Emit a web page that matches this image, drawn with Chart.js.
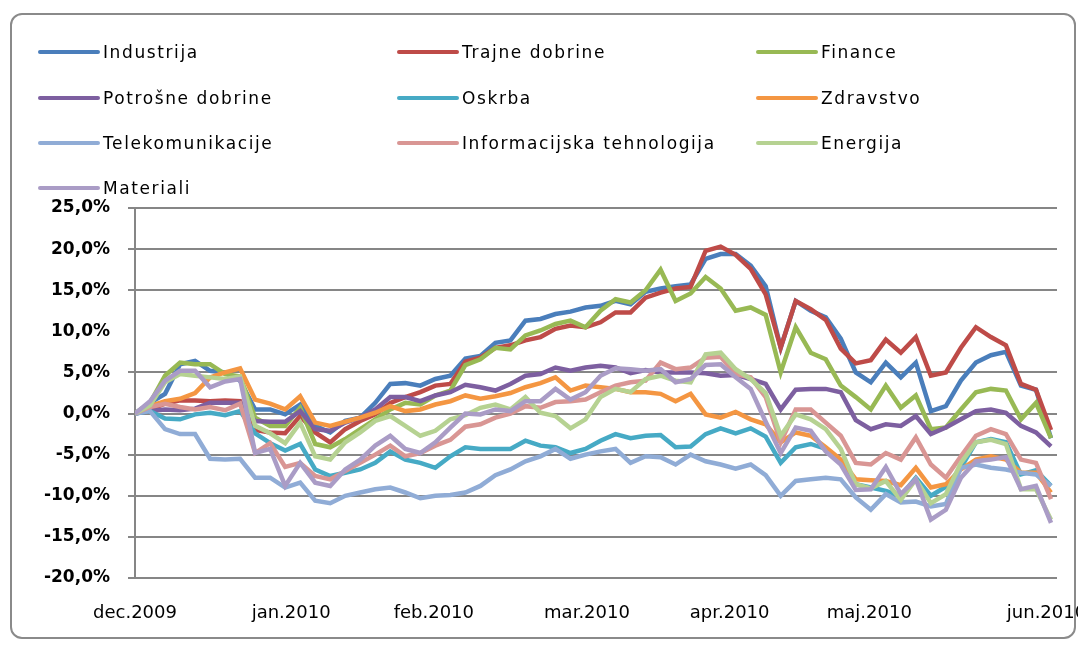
<!DOCTYPE html>
<html>
<head>
<meta charset="utf-8">
<script src="https://cdn.jsdelivr.net/npm/chart.js@4.4.1/dist/chart.umd.min.js"></script>
<style>
  html, body { margin: 0; padding: 0; background: #fff; }
  #wrap { position: relative; width: 1078px; height: 645px; overflow: hidden; }
  #frame { position: absolute; left: 10px; top: 13px; width: 1062px; height: 622px; border: 2px solid #8a8a8a; border-radius: 12px; }
  #chart { position: absolute; left: 0; top: 0; }
  #legend { position: absolute; left: 0; top: 0; font-family: 'DejaVu Sans', sans-serif; font-size: 17px; letter-spacing: 1.6px; color: #000; }
  .item { position: absolute; height: 20px; display: flex; align-items: center; white-space: nowrap; }
  .sw { display: inline-block; width: 62px; height: 4px; border-radius: 2px; margin-right: 3px; }
</style>
</head>
<body>
<div id="wrap">
  <div id="frame"></div>
  <canvas id="chart" width="1078" height="645"></canvas>
  <div id="legend"></div>
</div>
<script>
// trading-day index (one sample every ~15px of the original)
var days = Array.from({ length: 62 }, function (_, i) { return i; });

var monthPos = [0, 10.4, 19.9, 30.1, 39.6, 48.9, 60.7];
var monthLabels = ['dec.2009', 'jan.2010', 'feb.2010', 'mar.2010', 'apr.2010', 'maj.2010', 'jun.2010'];

var names = ['Industrija', 'Trajne dobrine', 'Finance', 'Potrošne dobrine', 'Oskrba', 'Zdravstvo',
             'Telekomunikacije', 'Informacijska tehnologija', 'Energija', 'Materiali'];
var colors = ['#4a7ebb', '#be4b48', '#98b954', '#7d5fa0', '#46aac5', '#f49642',
              '#90acd6', '#d99694', '#b6d292', '#aa9cc6'];

var industrija = [0, 1.3, 2.4, 6.0, 6.4, 5.2, 5.0, 4.0, 0.5, 0.5, -0.1, 1.1, -1.5, -2.3, -0.9, -0.5, 1.3, 3.6, 3.7, 3.4,
  4.2, 4.6, 6.7, 7.0, 8.6, 8.9, 11.3, 11.5, 12.1, 12.4, 12.9, 13.1, 13.7, 13.3, 14.8, 15.2, 15.5, 15.7, 18.8, 19.4,
  19.4, 18.0, 15.5, 8.0, 13.7, 12.5, 11.7, 9.1, 5.0, 3.8, 6.2, 4.4, 6.2, 0.3, 0.9, 4.0, 6.2, 7.1, 7.5, 3.4, 2.9, -3.0];
var trajne = [0, 0.5, 1.2, 1.6, 1.6, 1.5, 1.6, 1.5, -2.0, -2.3, -2.4, -0.3, -2.3, -3.5, -1.9, -0.9, -0.1, 1.3, 2.0, 2.6,
  3.4, 3.6, 6.3, 6.8, 8.0, 8.3, 8.9, 9.3, 10.3, 10.7, 10.5, 11.1, 12.3, 12.3, 14.1, 14.7, 15.2, 15.4, 19.8, 20.3,
  19.3, 17.6, 14.5, 8.0, 13.7, 12.7, 11.4, 7.9, 6.1, 6.5, 9.0, 7.4, 9.3, 4.6, 5.0, 8.0, 10.5, 9.3, 8.3, 3.6, 2.9, -2.0];
var finance = [0, 1.3, 4.6, 6.2, 6.0, 6.0, 4.8, 4.5, -0.5, -1.5, -1.5, 0.7, -3.7, -4.1, -3.1, -1.9, -0.7, 0.5, 1.3, 1.1,
  2.2, 2.8, 5.9, 6.6, 8.0, 7.8, 9.5, 10.1, 10.9, 11.3, 10.5, 12.5, 13.9, 13.5, 15.0, 17.5, 13.7, 14.6, 16.6, 15.2,
  12.5, 12.9, 12.0, 5.0, 10.5, 7.4, 6.6, 3.4, 2.0, 0.5, 3.4, 0.7, 2.2, -1.9, -1.7, 0.5, 2.6, 3.0, 2.8, -0.7, 1.3, -3.0];
var potrosne = [0, 0.3, 0.5, 0.4, 0.6, 1.3, 1.3, 1.3, -0.9, -1.0, -1.0, 0.3, -1.9, -2.1, -1.1, -0.5, 0.5, 2.0, 2.0, 1.5,
  2.2, 2.6, 3.5, 3.2, 2.8, 3.6, 4.6, 4.8, 5.6, 5.2, 5.6, 5.8, 5.6, 4.9, 5.3, 5.0, 5.0, 5.0, 4.9, 4.6,
  4.7, 4.2, 3.6, 0.5, 2.9, 3.0, 3.0, 2.6, -0.8, -1.9, -1.3, -1.5, -0.3, -2.5, -1.7, -0.7, 0.3, 0.5, 0.1, -1.5, -2.3, -4.0];
var oskrba = [0, 0.3, -0.6, -0.7, -0.1, 0.1, -0.2, 0.3, -2.4, -3.6, -4.5, -3.7, -6.8, -7.6, -7.2, -6.8, -6.0, -4.6, -5.6, -6.0,
  -6.6, -5.2, -4.1, -4.3, -4.3, -4.3, -3.3, -3.9, -4.1, -4.8, -4.3, -3.3, -2.5, -3.0, -2.7, -2.6, -4.1, -4.0, -2.5, -1.8,
  -2.4, -1.8, -2.8, -6.0, -4.1, -3.7, -4.3, -6.0, -8.6, -9.0, -9.4, -10.0, -7.8, -10.0, -8.9, -6.6, -3.5, -3.1, -3.5, -7.4, -6.9, -8.8];
var zdravstvo = [0, 0.9, 1.5, 1.8, 2.5, 4.4, 5.0, 5.5, 1.7, 1.2, 0.5, 2.1, -1.1, -1.5, -1.0, -0.5, 0.1, 0.9, 0.3, 0.5,
  1.1, 1.5, 2.2, 1.8, 2.1, 2.5, 3.2, 3.7, 4.4, 2.8, 3.4, 3.2, 3.0, 2.6, 2.6, 2.4, 1.5, 2.4, -0.1, -0.5,
  0.2, -0.7, -1.3, -3.5, -2.3, -2.7, -4.1, -5.6, -8.0, -8.1, -8.2, -8.7, -6.6, -9.0, -8.6, -6.8, -5.6, -5.2, -5.6, -7.2, -7.2, -9.6];
var telekom = [0, 0.3, -1.9, -2.5, -2.5, -5.5, -5.6, -5.5, -7.8, -7.8, -9.0, -8.4, -10.6, -10.9, -10.0, -9.6, -9.2, -9.0, -9.6, -10.3,
  -10.0, -9.9, -9.6, -8.8, -7.5, -6.8, -5.8, -5.2, -4.3, -5.5, -5.0, -4.6, -4.3, -6.0, -5.2, -5.3, -6.2, -5.0, -5.8, -6.2,
  -6.7, -6.2, -7.5, -10.0, -8.2, -8.0, -7.8, -8.0, -10.2, -11.7, -9.8, -10.8, -10.7, -11.3, -11.0, -6.6, -6.2, -6.6, -6.8, -7.2, -7.4, -8.8];
var infoTeh = [0, 0.8, 1.2, 0.8, 0.5, 0.8, 0.4, 1.2, -4.8, -3.6, -6.5, -6.0, -7.6, -8.0, -7.0, -6.0, -5.0, -3.9, -5.2, -4.8,
  -3.9, -3.2, -1.6, -1.3, -0.5, 0.0, 0.9, 0.7, 1.4, 1.5, 1.7, 2.6, 3.4, 3.8, 4.0, 6.2, 5.4, 5.6, 6.8, 6.9,
  4.8, 4.4, 2.0, -3.5, 0.5, 0.5, -1.1, -2.7, -6.0, -6.2, -4.8, -5.6, -2.9, -6.2, -7.8, -5.2, -2.7, -1.9, -2.5, -5.6, -6.0, -10.4];
var energija = [0, 1.0, 3.8, 4.8, 4.6, 4.4, 4.2, 4.5, -1.5, -2.4, -3.6, -1.1, -5.2, -5.6, -3.5, -2.3, -0.9, -0.3, -1.5, -2.7,
  -2.1, -0.7, -0.2, 0.7, 1.1, 0.5, 2.0, 0.1, -0.3, -1.8, -0.7, 2.0, 3.0, 2.6, 4.2, 4.6, 4.0, 3.8, 7.2, 7.4,
  5.4, 4.2, 2.5, -2.7, -0.1, -0.7, -1.9, -4.3, -8.6, -9.1, -8.2, -10.5, -8.0, -10.9, -9.8, -6.0, -3.5, -3.2, -3.7, -9.2, -9.2, -12.9];
var materiali = [0, 1.5, 4.0, 5.2, 5.2, 3.2, 3.9, 4.2, -4.8, -4.3, -8.8, -6.0, -8.4, -8.8, -6.8, -5.6, -3.9, -2.7, -4.3, -4.8,
  -3.5, -1.7, 0.0, -0.1, 0.5, 0.3, 1.5, 1.5, 3.0, 1.7, 2.6, 4.6, 5.5, 5.4, 5.2, 5.4, 3.8, 4.2, 5.9, 6.0,
  4.4, 3.0, -1.0, -4.8, -1.7, -2.1, -4.6, -6.2, -9.3, -9.2, -6.5, -9.8, -8.0, -12.9, -11.7, -7.8, -5.8, -5.6, -5.3, -9.2, -8.8, -13.3];

var series = [industrija, trajne, finance, potrosne, oskrba, zdravstvo, telekom, infoTeh, energija, materiali];

var gridColor = '#868686';

var chart = new Chart(document.getElementById('chart'), {
  type: 'line',
  data: {
    labels: days,
    datasets: series.map(function (vals, i) {
      return {
        label: names[i],
        data: vals,
        borderColor: colors[i],
        backgroundColor: colors[i],
        borderWidth: 4.5,
        pointRadius: 0,
        tension: 0,
        order: -i   // later series on top, like the original
      };
    })
  },
  options: {
    responsive: false,
    animation: false,
    layout: { padding: { top: 208, left: 0, right: 21, bottom: 0 } },
    plugins: { legend: { display: false }, tooltip: { enabled: false } },
    scales: {
      x: {
        type: 'linear',
        min: 0,
        max: 61.4,
        grid: { display: false, drawTicks: false },
        border: { display: false },
        afterBuildTicks: function (axis) {
          axis.ticks = monthPos.map(function (v) { return { value: v }; });
        },
        afterFit: function (axis) {
          axis.paddingLeft = 0;
          axis.paddingRight = 0;
          axis.height = 67;
        },
        ticks: {
          autoSkip: false,
          maxRotation: 0,
          padding: 25,
          color: '#000',
          font: { family: 'DejaVu Sans', size: 18 },
          callback: function (v, i) { return monthLabels[i]; }
        }
      },
      y: {
        min: -20,
        max: 25,
        afterFit: function (axis) { axis.width = 135; },
        ticks: {
          stepSize: 5,
          padding: 18,
          color: '#000',
          font: { family: 'DejaVu Sans', size: 17, weight: 'bold' },
          callback: function (v) { return v.toFixed(1).replace('.', ',') + '%'; }
        },
        grid: {
          color: function (ctx) { return ctx.tick && ctx.tick.value === 10 ? 'rgba(0,0,0,0)' : gridColor; },
          lineWidth: 2,
          tickLength: 7
        },
        border: { display: true, color: gridColor, width: 2 }
      }
    }
  }
});

// legend in three columns, like the original
var colX = [38, 397, 756];
var rowY = [52, 98, 143, 188];
var legend = document.getElementById('legend');
chart.data.datasets.forEach(function (ds, i) {
  var item = document.createElement('div');
  item.className = 'item';
  item.style.left = colX[i % 3] + 'px';
  item.style.top = (rowY[Math.floor(i / 3)] - 10) + 'px';
  item.innerHTML = '<span class="sw" style="background:' + ds.borderColor + '"></span>' + ds.label;
  legend.appendChild(item);
});
</script>
</body>
</html>
